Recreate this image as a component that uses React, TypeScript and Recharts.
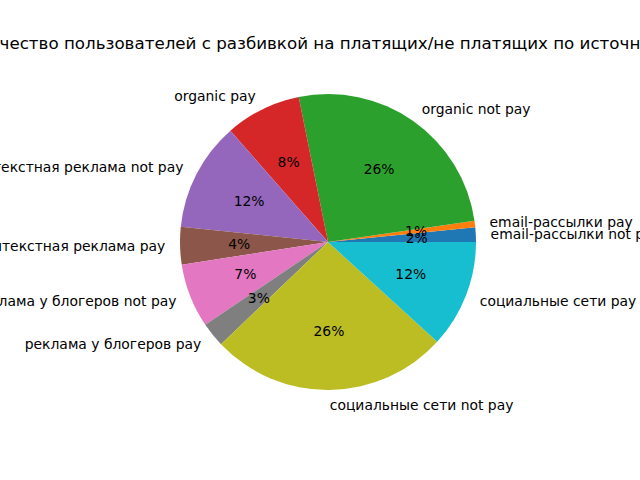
import React from "react";
import { PieChart, Pie, Cell } from "recharts";

const title = "Количество пользователей с разбивкой на платящих/не платящих по источникам";

const categories = [
  "email-рассылки not pay",
  "email-рассылки pay",
  "organic not pay",
  "organic pay",
  "контекстная реклама not pay",
  "контекстная реклама pay",
  "реклама у блогеров not pay",
  "реклама у блогеров pay",
  "социальные сети not pay",
  "социальные сети pay",
];

const values = [1.6, 0.7, 25.9, 8.3, 11.9, 4.1, 7.0, 2.7, 26.1, 11.8];

const colors = [
  "#1f77b4",
  "#ff7f0e",
  "#2ca02c",
  "#d62728",
  "#9467bd",
  "#8c564b",
  "#e377c2",
  "#7f7f7f",
  "#bcbd22",
  "#17becf",
];

const data = categories.map((name, i) => ({ name, value: values[i] }));

const RAD = Math.PI / 180;
const FONT = "DejaVu Sans, sans-serif";

const renderLabel = (props: any) => {
  const { cx, cy, midAngle, outerRadius, percent, name, index } = props;
  const cos = Math.cos(-midAngle * RAD);
  const sin = Math.sin(-midAngle * RAD);
  const lx = cx + outerRadius * 1.1 * cos;
  const ly = cy + outerRadius * 1.1 * sin;
  const px = cx + outerRadius * 0.6 * cos;
  const py = cy + outerRadius * 0.6 * sin;
  return (
    <g key={`lbl-${index}`}>
      <text
        x={lx}
        y={ly}
        textAnchor={cos >= 0 ? "start" : "end"}
        dominantBaseline="central"
        fontSize={13.9}
        fontFamily={FONT}
        fill="#000"
      >
        {name}
      </text>
      <text
        x={px}
        y={py}
        textAnchor="middle"
        dominantBaseline="central"
        fontSize={13.9}
        fontFamily={FONT}
        fill="#000"
      >
        {`${Math.round(percent * 100)}%`}
      </text>
    </g>
  );
};

export default function App() {
  return (
    <div style={{ position: "absolute", left: 0, top: 0, width: 640, height: 480, background: "#fff", overflow: "hidden" }}>
      <PieChart width={640} height={480} margin={{ top: 0, right: 0, bottom: 0, left: 0 }}>
        <text
          x={320}
          y={43}
          textAnchor="middle"
          dominantBaseline="central"
          fontSize={16.7}
          fontFamily={FONT}
          fill="#000"
        >
          {title}
        </text>
        <Pie
          data={data}
          dataKey="value"
          nameKey="name"
          cx={328}
          cy={242}
          outerRadius={148}
          innerRadius={0}
          startAngle={0}
          endAngle={360}
          stroke="none"
          labelLine={false}
          label={renderLabel}
          isAnimationActive={false}
        >
          {data.map((d, i) => (
            <Cell key={d.name} fill={colors[i]} />
          ))}
        </Pie>
      </PieChart>
    </div>
  );
}
